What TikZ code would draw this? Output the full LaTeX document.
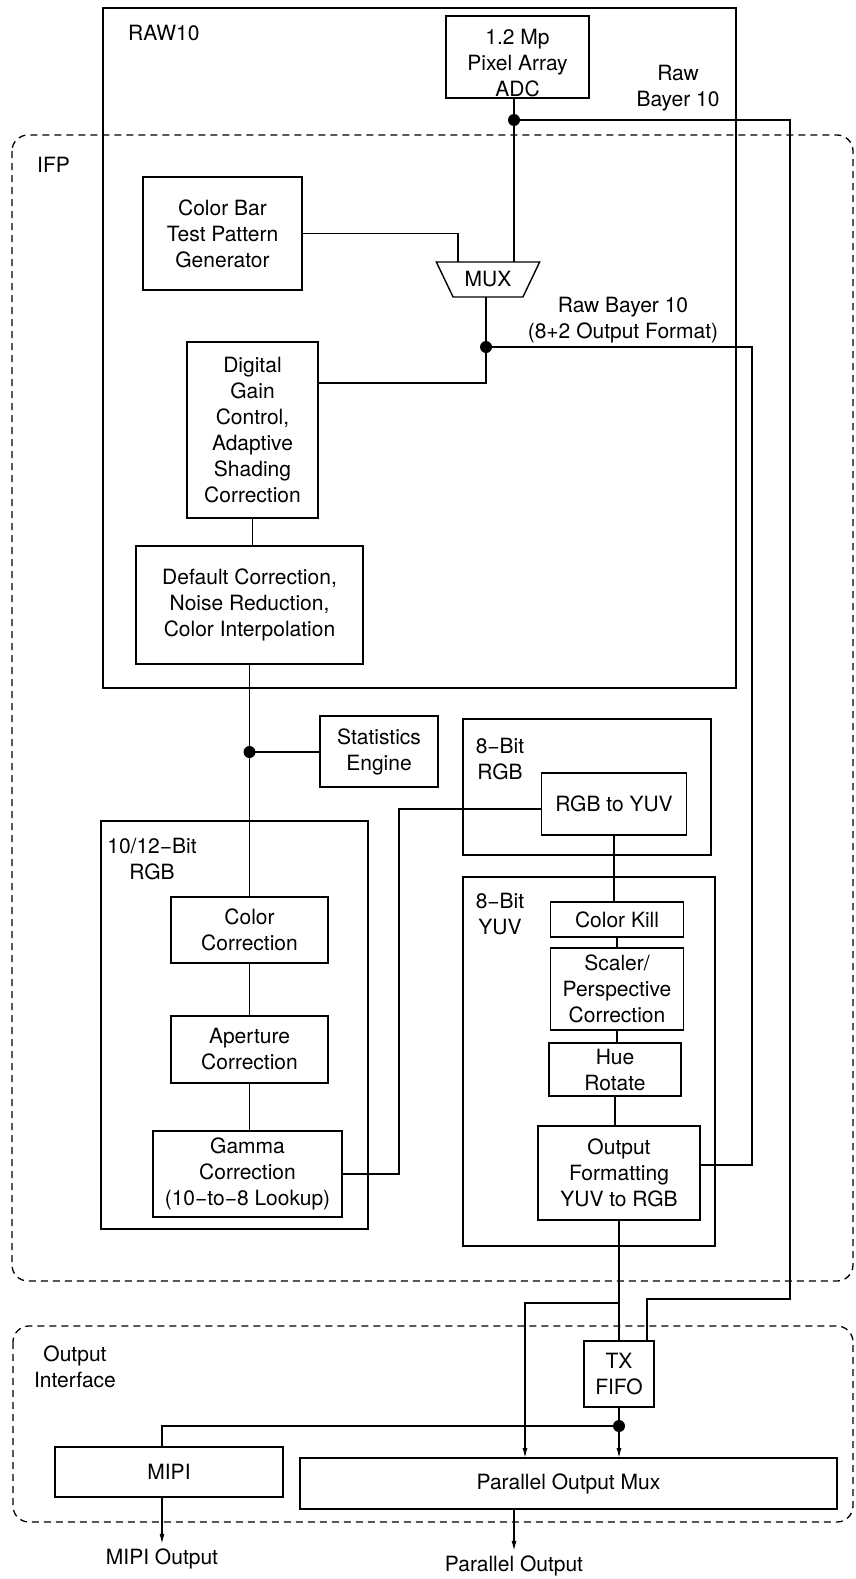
\documentclass[tikz,border=0pt]{standalone}
\usepackage{fontspec}
\setmainfont{TeX Gyre Heros}
\usetikzlibrary{arrows.meta}
\usetikzlibrary{shapes.geometric}

\tikzset{
  blk/.style={draw, line width=1.4pt, align=center, inner sep=0pt, outer sep=0pt},
  grp/.style={draw, line width=1.3pt},
  zone/.style={draw, line width=1.3pt, dash pattern=on 7pt off 5pt, rounded corners=16pt},
  wire/.style={line width=1.3pt},
  arr/.style={line width=1.3pt, -{Latex[length=10pt,width=5pt]}},
  lbl/.style={align=center, inner sep=0pt},
  outlbl/.style={lbl, outer sep=5pt},
}

\begin{document}
\begin{tikzpicture}[x=1pt, y=-1pt, font=\fontsize{21}{26}\selectfont]
\useasboundingbox (0,0) rectangle (855,1579);
\draw[grp] (103,8) rectangle (736,688);
\draw[zone] (12,135) rectangle (853,1281);
\draw[zone] (13,1326) rectangle (853,1522);
\draw[grp] (101,821) rectangle (368,1229);
\draw[grp] (463,719) rectangle (711,855);
\draw[grp] (463,877) rectangle (715,1246);

\node[lbl, anchor=west] (raw) at (128,33) {RAW10};
\node[lbl, anchor=west] (ifp) at (37,165) {IFP};
\node[lbl] (rawlbl) at (678,88) {Raw\\Bayer 10};
\node[lbl] (fmtlbl) at (623,320) {Raw Bayer 10\\(8+2 Output Format)};
\node[lbl] (rgblbl) at (152,859) {10/12−Bit\\RGB};
\node[lbl] (rgbelbl) at (500,759) {8−Bit\\RGB};
\node[lbl] (yuvlbl) at (500,914) {8−Bit\\YUV};
\node[lbl] (oilbl) at (75,1367) {Output\\Interface};

\node[blk, minimum width=143pt, minimum height=82pt, text height=79pt] (pix) at (517.5,57) {1.2 Mp\\Pixel Array\\ADC};
\node[blk, minimum width=159pt, minimum height=113pt] (cbar) at (222.5,233.5) {Color Bar\\Test Pattern\\Generator};
\node[blk, trapezium, shape border rotate=180, trapezium angle=54.5, trapezium stretches=true, minimum width=104pt, minimum height=35pt] (mux) at (488,279.5) {MUX};
\node[blk, minimum width=131pt, minimum height=176pt] (dig) at (252.5,430) {Digital\\Gain\\Control,\\Adaptive\\Shading\\Correction};
\node[blk, minimum width=227pt, minimum height=118pt] (dflt) at (249.5,605) {Default Correction,\\Noise Reduction,\\Color Interpolation};
\node[blk, minimum width=118pt, minimum height=71pt] (stats) at (379,751.5) {Statistics\\Engine};
\node[blk, minimum width=157pt, minimum height=66pt] (cc) at (249.5,930) {Color\\Correction};
\node[blk, minimum width=157pt, minimum height=67pt] (ap) at (249.5,1049.5) {Aperture\\Correction};
\node[blk, minimum width=189pt, minimum height=86pt] (gam) at (247.5,1174) {Gamma\\Correction\\(10−to−8 Lookup)};
\node[blk, minimum width=145pt, minimum height=62pt] (r2y) at (614,804) {RGB to YUV};
\node[blk, minimum width=133pt, minimum height=35pt] (ck) at (617,919.5) {Color Kill};
\node[blk, minimum width=133pt, minimum height=82pt] (sc) at (617,989) {Scaler/\\Perspective\\Correction};
\node[blk, minimum width=132pt, minimum height=53pt] (hue) at (615,1069.5) {Hue\\Rotate};
\node[blk, minimum width=162pt, minimum height=94pt] (of) at (619,1173) {Output\\Formatting\\YUV to RGB};
\node[blk, minimum width=70pt, minimum height=66pt] (tx) at (619,1374) {TX\\FIFO};
\node[blk, minimum width=228pt, minimum height=50pt] (mipi) at (169,1472) {MIPI};
\node[blk, minimum width=537pt, minimum height=51pt] (pmux) at (568.5,1483.5) {Parallel Output Mux};
\node[outlbl] (mipiout) at (162,1559) {MIPI Output};
\node[outlbl] (pout) at (514,1566) {Parallel Output};

\coordinate (d1) at (514,120);
\coordinate (r1) at (790,1299);
\coordinate (d2) at (486,347);
\coordinate (m1) at (486,383);
\coordinate (r2) at (752,1165);
\coordinate (d3) at (249.5,752);
\coordinate (g1) at (399,809);
\coordinate (b1) at (619,1303);
\coordinate (b2) at (525,1303);
\coordinate (d4) at (619,1426);

\draw[wire] (pix.south -| d1) -- (d1 |- mux.north);
\draw[wire] (d1) -| (r1) -| ([xshift=28pt]tx.north);
\draw[wire] (cbar.east) -| ([xshift=-30pt]mux.north);
\draw[wire] (mux.south -| d2) -- (m1) -- (m1 -| dig.east);
\draw[wire] (d2) -| (r2) -- (r2 -| of.east);
\draw[wire] (dig.south) -- (dig.south |- dflt.north);
\draw[wire] (dflt.south) -- (cc.north);
\draw[wire] (d3) -- (d3 -| stats.west);
\draw[wire] (cc.south) -- (ap.north);
\draw[wire] (ap.south) -- (ap.south |- gam.north);
\draw[wire] (gam.east) -| (g1) -- (g1 -| r2y.west);
\draw[wire] (r2y.south) -- (r2y.south |- ck.north);
\draw[wire] (ck.south) -- (ck.south |- sc.north);
\draw[wire] (sc.south) -- (sc.south |- hue.north);
\draw[wire] (hue.south) -- (hue.south |- of.north);
\draw[wire] (of.south) -- (tx.north);
\draw[arr] (b1) -- (b2) -- (b2 |- pmux.north);
\draw[arr] (tx.south) -- (tx.south |- pmux.north);
\draw[wire] (d4) -| ([xshift=-7pt]mipi.north);
\draw[arr] ([xshift=-7pt]mipi.south) -- (mipiout.north);
\draw[arr] (pout.north |- pmux.south) -- (pout.north);
\foreach \p in {d1,d2,d3,d4} \fill (\p) circle (6pt);
\end{tikzpicture}
\end{document}
